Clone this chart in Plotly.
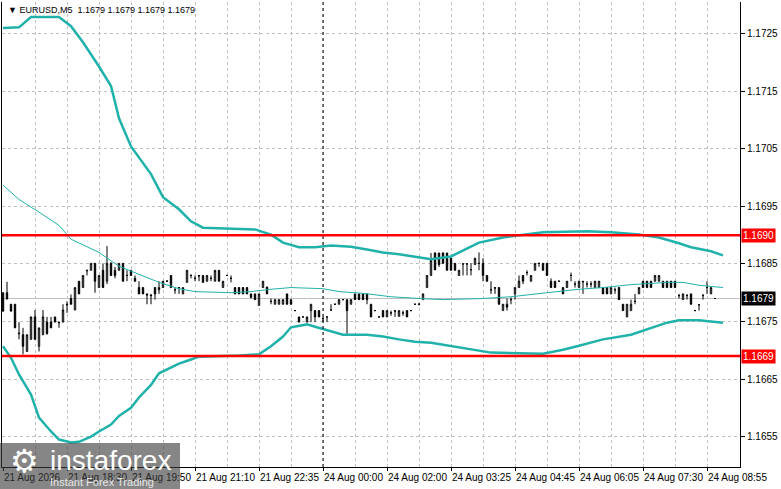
import plotly.graph_objects as go

# ---------------- data ----------------
symbol = "EURUSD,M5"
bar_index = list(range(179))

opens = [
1.16800,1.16800,1.16780,1.16780,1.16730,1.16727,1.16698,1.16719,1.16758,1.16707,
1.16727,1.16749,1.16749,1.16758,1.16749,1.16749,1.16780,1.16790,1.16770,1.16820,
1.16809,1.16838,1.16839,1.16851,1.16809,1.16839,1.16820,1.16851,1.16839,1.16839,
1.16851,1.16830,1.16839,1.16825,1.16809,1.16809,1.16798,1.16796,1.16809,1.16805,
1.16809,1.16820,1.16830,1.16805,1.16809,1.16798,1.16818,1.16830,1.16825,1.16830,
1.16830,1.16820,1.16825,1.16820,1.16839,1.16809,1.16830,1.16825,1.16809,1.16809,
1.16809,1.16809,1.16798,1.16798,1.16778,1.16809,1.16810,1.16785,1.16780,1.16780,
1.16780,1.16798,1.16788,1.16769,1.16758,1.16758,1.16749,1.16769,1.16769,1.16769,
1.16755,1.16758,1.16770,1.16780,1.16780,1.16788,1.16788,1.16780,1.16798,1.16798,
1.16798,1.16798,1.16780,1.16769,1.16758,1.16769,1.16758,1.16765,1.16769,1.16759,
1.16765,1.16769,1.16769,1.16780,1.16780,1.16788,1.16809,1.16830,1.16869,1.16869,
1.16869,1.16869,1.16860,1.16851,1.16830,1.16850,1.16850,1.16840,1.16849,1.16851,
1.16851,1.16830,1.16805,1.16809,1.16809,1.16769,1.16780,1.16788,1.16798,1.16809,
1.16830,1.16835,1.16820,1.16839,1.16851,1.16851,1.16851,1.16820,1.16820,1.16820,
1.16809,1.16809,1.16830,1.16815,1.16809,1.16820,1.16815,1.16815,1.16809,1.16809,
1.16809,1.16809,1.16798,1.16805,1.16809,1.16780,1.16758,1.16769,1.16785,1.16798,
1.16820,1.16820,1.16820,1.16820,1.16820,1.16820,1.16820,1.16820,1.16820,1.16795,
1.16788,1.16795,1.16798,1.16769,1.16779,1.16795,1.16809,1.16798,1.16790]

highs = [
1.16800,1.16819,1.16780,1.16780,1.16749,1.16739,1.16727,1.16758,1.16770,1.16739,
1.16770,1.16758,1.16758,1.16758,1.16749,1.16780,1.16785,1.16797,1.16809,1.16820,
1.16830,1.16839,1.16851,1.16851,1.16830,1.16851,1.16881,1.16853,1.16845,1.16851,
1.16851,1.16839,1.16839,1.16830,1.16820,1.16809,1.16798,1.16798,1.16809,1.16820,
1.16820,1.16822,1.16830,1.16809,1.16809,1.16809,1.16839,1.16832,1.16830,1.16830,
1.16830,1.16830,1.16830,1.16839,1.16839,1.16820,1.16831,1.16830,1.16809,1.16809,
1.16809,1.16809,1.16798,1.16798,1.16798,1.16820,1.16810,1.16790,1.16788,1.16788,
1.16788,1.16798,1.16788,1.16770,1.16758,1.16759,1.16758,1.16780,1.16769,1.16769,
1.16758,1.16758,1.16780,1.16781,1.16788,1.16789,1.16788,1.16788,1.16798,1.16798,
1.16798,1.16798,1.16780,1.16770,1.16759,1.16769,1.16769,1.16769,1.16769,1.16769,
1.16769,1.16769,1.16770,1.16781,1.16782,1.16798,1.16830,1.16869,1.16870,1.16869,
1.16870,1.16869,1.16860,1.16851,1.16839,1.16851,1.16851,1.16851,1.16860,1.16870,
1.16860,1.16830,1.16820,1.16809,1.16809,1.16780,1.16790,1.16792,1.16809,1.16830,
1.16830,1.16839,1.16830,1.16851,1.16852,1.16851,1.16851,1.16825,1.16820,1.16821,
1.16809,1.16820,1.16835,1.16820,1.16820,1.16820,1.16820,1.16820,1.16820,1.16820,
1.16809,1.16809,1.16809,1.16809,1.16809,1.16780,1.16780,1.16788,1.16798,1.16809,
1.16820,1.16820,1.16820,1.16830,1.16830,1.16820,1.16820,1.16820,1.16820,1.16798,
1.16798,1.16798,1.16798,1.16770,1.16780,1.16798,1.16820,1.16809,1.16790]

lows = [
1.16768,1.16789,1.16768,1.16739,1.16719,1.16693,1.16698,1.16719,1.16719,1.16698,
1.16727,1.16727,1.16739,1.16749,1.16739,1.16749,1.16765,1.16780,1.16770,1.16798,
1.16809,1.16830,1.16839,1.16800,1.16809,1.16809,1.16815,1.16830,1.16825,1.16839,
1.16820,1.16820,1.16830,1.16820,1.16798,1.16798,1.16780,1.16780,1.16788,1.16798,
1.16809,1.16819,1.16809,1.16798,1.16798,1.16798,1.16818,1.16825,1.16820,1.16820,
1.16818,1.16820,1.16820,1.16820,1.16820,1.16809,1.16829,1.16818,1.16798,1.16798,
1.16798,1.16798,1.16790,1.16788,1.16778,1.16809,1.16798,1.16780,1.16780,1.16780,
1.16780,1.16780,1.16780,1.16768,1.16749,1.16757,1.16749,1.16749,1.16749,1.16758,
1.16749,1.16749,1.16769,1.16779,1.16780,1.16787,1.16727,1.16780,1.16788,1.16788,
1.16788,1.16780,1.16758,1.16768,1.16757,1.16758,1.16758,1.16760,1.16758,1.16759,
1.16760,1.16758,1.16768,1.16779,1.16778,1.16788,1.16809,1.16830,1.16839,1.16845,
1.16851,1.16839,1.16839,1.16839,1.16830,1.16830,1.16830,1.16830,1.16849,1.16839,
1.16820,1.16820,1.16798,1.16798,1.16780,1.16769,1.16769,1.16780,1.16788,1.16809,
1.16815,1.16830,1.16820,1.16839,1.16845,1.16839,1.16830,1.16809,1.16809,1.16819,
1.16798,1.16809,1.16820,1.16809,1.16809,1.16798,1.16809,1.16809,1.16809,1.16809,
1.16798,1.16798,1.16798,1.16798,1.16788,1.16769,1.16758,1.16769,1.16780,1.16798,
1.16809,1.16809,1.16809,1.16820,1.16820,1.16809,1.16809,1.16809,1.16809,1.16790,
1.16788,1.16788,1.16780,1.16768,1.16769,1.16788,1.16798,1.16798,1.16790]

closes = [
1.16768,1.16789,1.16768,1.16739,1.16729,1.16707,1.16727,1.16758,1.16719,1.16739,
1.16758,1.16729,1.16739,1.16749,1.16748,1.16770,1.16779,1.16780,1.16809,1.16798,
1.16830,1.16839,1.16851,1.16820,1.16830,1.16809,1.16851,1.16830,1.16830,1.16851,
1.16820,1.16830,1.16830,1.16820,1.16798,1.16798,1.16796,1.16795,1.16798,1.16809,
1.16820,1.16820,1.16809,1.16805,1.16808,1.16809,1.16839,1.16830,1.16825,1.16829,
1.16818,1.16830,1.16825,1.16839,1.16820,1.16820,1.16830,1.16825,1.16798,1.16798,
1.16798,1.16798,1.16792,1.16788,1.16798,1.16820,1.16798,1.16785,1.16788,1.16788,
1.16788,1.16780,1.16780,1.16769,1.16749,1.16758,1.16758,1.16780,1.16758,1.16758,
1.16755,1.16758,1.16770,1.16780,1.16788,1.16788,1.16769,1.16788,1.16788,1.16788,
1.16788,1.16788,1.16758,1.16769,1.16758,1.16758,1.16769,1.16765,1.16768,1.16769,
1.16765,1.16758,1.16769,1.16780,1.16780,1.16798,1.16830,1.16856,1.16840,1.16849,
1.16851,1.16839,1.16839,1.16839,1.16839,1.16850,1.16850,1.16840,1.16860,1.16851,
1.16830,1.16820,1.16805,1.16808,1.16780,1.16780,1.16775,1.16788,1.16809,1.16820,
1.16820,1.16835,1.16830,1.16851,1.16851,1.16839,1.16830,1.16809,1.16809,1.16820,
1.16798,1.16820,1.16830,1.16815,1.16820,1.16819,1.16815,1.16815,1.16820,1.16820,
1.16798,1.16798,1.16809,1.16805,1.16788,1.16769,1.16780,1.16780,1.16785,1.16809,
1.16809,1.16809,1.16809,1.16830,1.16830,1.16809,1.16809,1.16809,1.16809,1.16795,
1.16798,1.16795,1.16780,1.16769,1.16779,1.16795,1.16809,1.16809,1.16790]

# Bollinger bands (read at selected bars)
upper_bar = [0, 4, 7, 14, 17, 20, 24, 27, 29, 32, 37, 40, 44, 47, 50, 57, 63, 67, 70, 74,
             78, 82, 87, 91, 95, 99, 103, 107, 112, 119, 125, 135, 146, 152, 159, 164, 169, 172, 177, 180]
upper_price = [1.17260, 1.17261, 1.17279, 1.17279, 1.17263, 1.17235, 1.17193, 1.17159, 1.17103, 1.17054,
               1.17006, 1.16966, 1.16945, 1.16924, 1.16913, 1.16912, 1.16910, 1.16901, 1.16887, 1.16879,
               1.16879, 1.16882, 1.16880, 1.16875, 1.16870, 1.16867, 1.16863, 1.16858, 1.16863, 1.16887,
               1.16896, 1.16905, 1.16907, 1.16905, 1.16901, 1.16896, 1.16886, 1.16879, 1.16872, 1.16865]

middle_bar = [0, 4, 9, 14, 17, 24, 29, 34, 39, 44, 48, 57, 62, 67, 72, 80, 84, 90, 97, 104,
              110, 120, 127, 136, 144, 150, 157, 166, 170, 174, 180]
middle_price = [1.16987, 1.16962, 1.16940, 1.16917, 1.16893, 1.16870, 1.16846, 1.16832, 1.16818, 1.16807,
                1.16802, 1.16800, 1.16802, 1.16806, 1.16809, 1.16807, 1.16802, 1.16799, 1.16793, 1.16790,
                1.16788, 1.16790, 1.16793, 1.16800, 1.16806, 1.16809, 1.16814, 1.16818, 1.16818, 1.16813,
                1.16809]

lower_bar = [0, 2, 4, 7, 9, 12, 14, 17, 19, 22, 24, 27, 29, 32, 34, 37, 39, 42, 44, 47,
             49, 59, 64, 67, 70, 72, 76, 78, 82, 85, 91, 95, 99, 103, 107, 112, 117, 122, 135, 140,
             144, 150, 157, 161, 166, 169, 174, 180]
lower_price = [1.16707, 1.16687, 1.16658, 1.16623, 1.16583, 1.16559, 1.16545, 1.16540, 1.16541, 1.16550,
               1.16559, 1.16571, 1.16586, 1.16600, 1.16618, 1.16640, 1.16660, 1.16670, 1.16677, 1.16684,
               1.16689, 1.16691, 1.16693, 1.16707, 1.16724, 1.16740, 1.16745, 1.16741, 1.16733, 1.16727,
               1.16727, 1.16724, 1.16719, 1.16715, 1.16713, 1.16707, 1.16701, 1.16696, 1.16694, 1.16701,
               1.16708, 1.16719, 1.16727, 1.16736, 1.16748, 1.16752, 1.16752, 1.16748]

time_tick_bars = [0, 16, 32, 48, 64, 80, 96, 112, 128, 144, 160, 176]
time_tick_labels = ["21 Aug 2026", "21 Aug 18:30", "21 Aug 19:50", "21 Aug 21:10", "21 Aug 22:35",
                    "24 Aug 00:00", "24 Aug 02:00", "24 Aug 03:25", "24 Aug 04:45", "24 Aug 06:05",
                    "24 Aug 07:30", "24 Aug 08:55"]
grid_minor_bars = [8, 24, 40, 56, 72, 88, 104, 120, 136, 152, 168, 184]

price_ticks = [1.1655, 1.1665, 1.1675, 1.1685, 1.1695, 1.1705, 1.1715, 1.1725]
price_tick_labels = ["1.1655", "1.1665", "1.1675", "1.1685", "1.1695", "1.1705", "1.1715", "1.1725"]

resistance_level = 1.1690
support_level = 1.1669
separator_bar = 80

# ---------------- figure ----------------
TEAL = "#20B2AA"
GRID = "#c0c0c0"
FONT = "Liberation Sans, Arial, sans-serif"

fig = go.Figure()

fig.add_trace(go.Candlestick(
    x=bar_index, open=opens, high=highs, low=lows, close=closes,
    increasing=dict(line=dict(color="black", width=1), fillcolor="white"),
    decreasing=dict(line=dict(color="black", width=1), fillcolor="black"),
    whiskerwidth=0, hoverinfo="skip", showlegend=False,
))

fig.add_trace(go.Scatter(x=middle_bar, y=middle_price, mode="lines",
                         line=dict(color=TEAL, width=1), hoverinfo="skip", showlegend=False))
fig.add_trace(go.Scatter(x=upper_bar, y=upper_price, mode="lines",
                         line=dict(color=TEAL, width=2.5), hoverinfo="skip", showlegend=False))
fig.add_trace(go.Scatter(x=lower_bar, y=lower_price, mode="lines",
                         line=dict(color=TEAL, width=2.5), hoverinfo="skip", showlegend=False))

last_close = closes[-1]

shapes = [
    dict(type="line", xref="paper", x0=0, x1=1, yref="y", y0=last_close, y1=last_close,
         line=dict(color="#c0c0c0", width=1), layer="below"),
    dict(type="line", xref="x", x0=separator_bar, x1=separator_bar, yref="paper", y0=0, y1=1,
         line=dict(color="black", width=1, dash="3px,3px")),
    dict(type="line", xref="paper", x0=0, x1=1, yref="y", y0=resistance_level, y1=resistance_level,
         line=dict(color="#ff0000", width=2.5)),
    dict(type="line", xref="paper", x0=0, x1=1, yref="y", y0=support_level, y1=support_level,
         line=dict(color="#ff0000", width=2.5)),
    dict(type="rect", xref="paper", yref="paper", x0=-0.003, x1=0.2412, y0=-0.048, y1=0.0516,
         fillcolor="rgba(60,60,60,0.62)", line=dict(width=0), layer="above"),
]

annotations = [
    dict(xref="paper", x=0, xanchor="left", xshift=4, yref="paper", y=1, yanchor="top", yshift=-1,
         text="▼ %s  %.4f %.4f %.4f %.4f" % (symbol, opens[-1], highs[-1], lows[-1], closes[-1]),
         showarrow=False, font=dict(size=9, color="black", family=FONT)),
    dict(xref="paper", x=1, xanchor="left", xshift=1, yref="y", y=resistance_level,
         text="%.4f" % resistance_level, showarrow=False, bgcolor="#ff0000",
         font=dict(size=10, color="white", family=FONT), borderpad=1),
    dict(xref="paper", x=1, xanchor="left", xshift=1, yref="y", y=last_close,
         text="%.4f" % last_close, showarrow=False, bgcolor="black",
         font=dict(size=10, color="white", family=FONT), borderpad=1),
    dict(xref="paper", x=1, xanchor="left", xshift=1, yref="y", y=support_level,
         text="%.4f" % support_level, showarrow=False, bgcolor="#ff0000",
         font=dict(size=10, color="white", family=FONT), borderpad=1),
    dict(xref="paper", x=0.0081, xanchor="left", yref="paper", y=0.012, yanchor="middle",
         text="⚙", showarrow=False, font=dict(size=32, color="white", family="DejaVu Sans")),
    dict(xref="paper", x=0.062, xanchor="left", yref="paper", y=0.014, yanchor="middle",
         text="instaforex", showarrow=False, font=dict(size=28, color="white", family=FONT)),
    dict(xref="paper", x=0.062, xanchor="left", yref="paper", y=-0.033, yanchor="middle",
         text="Instant Forex Trading", showarrow=False,
         font=dict(size=11, color="#e6e6e6", family=FONT)),
]

fig.update_layout(
    width=781, height=489,
    margin=dict(l=2, r=41, t=2, b=22, autoexpand=False),
    paper_bgcolor="white", plot_bgcolor="white",
    showlegend=False,
    boxgap=0.5,
    font=dict(family=FONT, size=10, color="black"),
    shapes=shapes, annotations=annotations,
    xaxis=dict(
        range=[-0.25, 184.25], rangeslider=dict(visible=False),
        tickmode="array", tickvals=time_tick_bars, ticktext=time_tick_labels,
        tickangle=0, automargin=False, ticklabelstandoff=1,
        ticks="outside", ticklen=3, tickcolor="black",
        ticklabelposition="outside right",
        showline=True, linecolor="black", linewidth=1,
        showgrid=True, gridcolor=GRID, griddash="3px,3px", gridwidth=1,
        minor=dict(tickmode="array", tickvals=grid_minor_bars, showgrid=True,
                   gridcolor=GRID, griddash="3px,3px", gridwidth=1, ticks=""),
        zeroline=False, fixedrange=True,
        tickfont=dict(size=10, color="black", family=FONT),
    ),
    yaxis=dict(
        side="right", range=[1.164973, 1.173050], automargin=False,
        tickmode="array", tickvals=price_ticks, ticktext=price_tick_labels,
        ticks="outside", ticklen=4, tickcolor="black",
        showline=True, mirror=True, linecolor="black", linewidth=1,
        showgrid=True, gridcolor=GRID, griddash="3px,3px", gridwidth=1,
        zeroline=False, fixedrange=True,
        tickfont=dict(size=10, color="black", family=FONT),
    ),
)

fig.write_html("out.html", config={"displayModeBar": False},
               post_script="document.body.style.margin='0';document.body.style.overflow='hidden';")
